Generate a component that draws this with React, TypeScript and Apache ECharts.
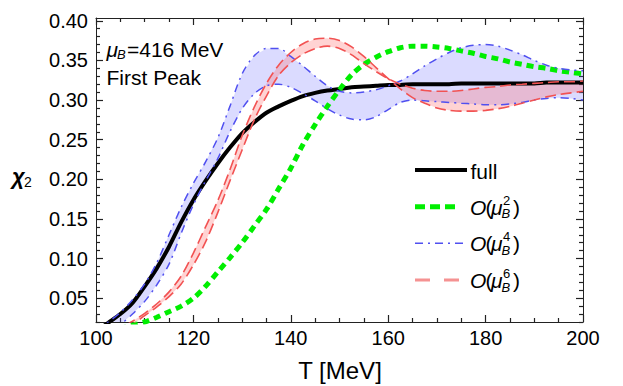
import React, { useEffect, useRef } from "react";
import * as echarts from "echarts";

// ---- data ----
const temperatures = [
  100, 102.5, 105, 107.5, 110, 112.5, 115, 117.5, 120, 122.5, 125, 127.5, 130, 132.5, 135, 137.5,
  140, 142.5, 145, 147.5, 150, 152.5, 155, 157.5, 160, 162.5, 165, 167.5, 170, 172.5, 175, 177.5,
  180, 182.5, 185, 187.5, 190, 192.5, 195, 197.5, 200,
];

const fullChi2 = [
  0.008, 0.019, 0.03, 0.044, 0.065, 0.088, 0.115, 0.146, 0.174, 0.198, 0.22, 0.24, 0.258, 0.272, 0.284, 0.292,
  0.299, 0.305, 0.309, 0.312, 0.314, 0.316, 0.317, 0.318, 0.319, 0.319, 0.32, 0.32, 0.32, 0.32, 0.321, 0.321,
  0.321, 0.321, 0.321, 0.321, 0.321, 0.322, 0.322, 0.322, 0.322,
];

const order2Chi2 = [
  0.005, 0.009, 0.012, 0.016, 0.02, 0.026, 0.033, 0.04, 0.05, 0.065, 0.083, 0.101, 0.12, 0.141, 0.162, 0.188,
  0.214, 0.244, 0.269, 0.292, 0.313, 0.332, 0.345, 0.354, 0.361, 0.366, 0.368, 0.368, 0.367, 0.365, 0.362, 0.359,
  0.355, 0.352, 0.348, 0.345, 0.342, 0.34, 0.337, 0.335, 0.333,
];

const order4Upper = [
  0.01, 0.02, 0.032, 0.048, 0.068, 0.095, 0.13, 0.165, 0.195, 0.222, 0.252, 0.292, 0.333, 0.356, 0.365, 0.365,
  0.355, 0.343, 0.33, 0.318, 0.311, 0.309, 0.31, 0.313, 0.318, 0.324, 0.333, 0.343, 0.352, 0.36, 0.366, 0.369,
  0.37, 0.368, 0.363, 0.357, 0.35, 0.344, 0.34, 0.338, 0.337,
];

const order4Lower = [
  0.0, 0.008, 0.017, 0.03, 0.046, 0.067, 0.093, 0.132, 0.168, 0.198, 0.226, 0.26, 0.289, 0.308, 0.318, 0.32,
  0.316, 0.308, 0.299, 0.289, 0.281, 0.276, 0.275, 0.279, 0.288, 0.297, 0.3, 0.299, 0.298, 0.297, 0.296, 0.295,
  0.294, 0.294, 0.295, 0.297, 0.3, 0.302, 0.303, 0.302, 0.3,
];

const order6A = [
  0.0, 0.005, 0.012, 0.021, 0.031, 0.043, 0.058, 0.078, 0.107, 0.14, 0.173, 0.212, 0.255, 0.291, 0.321, 0.344,
  0.36, 0.371, 0.377, 0.378, 0.375, 0.367, 0.355, 0.341, 0.327, 0.314, 0.303, 0.296, 0.29, 0.287, 0.286, 0.286,
  0.287, 0.289, 0.292, 0.296, 0.3, 0.304, 0.307, 0.309, 0.311,
];

const order6B = [
  0.0, 0.003, 0.009, 0.017, 0.028, 0.039, 0.052, 0.068, 0.092, 0.121, 0.158, 0.198, 0.237, 0.275, 0.305, 0.331,
  0.347, 0.358, 0.365, 0.368, 0.365, 0.357, 0.346, 0.336, 0.327, 0.32, 0.315, 0.312, 0.311, 0.311, 0.312, 0.314,
  0.316, 0.317, 0.319, 0.32, 0.321, 0.322, 0.323, 0.323, 0.324,
];

const yMajorTicks = [0.05, 0.1, 0.15, 0.2, 0.25, 0.3, 0.35, 0.4];
const yMinorTicks = [
  0.02, 0.03, 0.04, 0.06, 0.07, 0.08, 0.09, 0.11, 0.12, 0.13, 0.14, 0.16, 0.17, 0.18, 0.19, 0.21, 0.22,
  0.23, 0.24, 0.26, 0.27, 0.28, 0.29, 0.31, 0.32, 0.33, 0.34, 0.36, 0.37, 0.38, 0.39,
];

const legendOrders = ["2", "4", "6"];
const annotationLines = ["=416 MeV", "First Peak"];

const FONT = "'Liberation Sans', Arial, Helvetica, sans-serif";
const FRAME = "#222";
const GREEN = "#00ee00";
const BLUE = "#5050f0";
const RED = "#f25252";

const pts = (ys: number[]) => temperatures.map((t, i) => [t, ys[i]]);

function band(name: string, a: number[], b: number[], color: string) {
  return {
    type: "custom",
    name,
    clip: true,
    silent: true,
    z: 1,
    data: temperatures.map((t, i) => [t, Math.min(a[i], b[i]), Math.max(a[i], b[i])]),
    encode: { x: 0, y: [1, 2] },
    renderItem: (params: any, api: any) => {
      if (params.dataIndex !== 0) return null;
      const upper: number[][] = [];
      const lower: number[][] = [];
      for (let i = 0; i < temperatures.length; i++) {
        upper.push(api.coord([temperatures[i], Math.max(a[i], b[i])]));
        lower.push(api.coord([temperatures[i], Math.min(a[i], b[i])]));
      }
      return {
        type: "polygon",
        shape: { points: upper.concat(lower.reverse()) },
        style: { fill: color },
      };
    },
  };
}

function lineSeries(name: string, ys: number[], style: any, z: number) {
  return {
    type: "line",
    name,
    data: pts(ys),
    showSymbol: false,
    symbol: "none",
    smooth: 0.3,
    clip: true,
    silent: true,
    z,
    lineStyle: style,
  };
}

function txt(text: string, x: number, y: number, size: number, extra: any = {}) {
  return {
    type: "text",
    x,
    y,
    silent: true,
    style: {
      text,
      fontSize: size,
      fontFamily: FONT,
      fill: "#000",
      align: "left",
      verticalAlign: "middle",
      textAlign: "left",
      textVerticalAlign: "middle",
      ...extra,
    },
  };
}

function xAxisDef(position: "bottom" | "top", labels: boolean) {
  return {
    type: "value",
    position,
    min: 100,
    max: 200,
    interval: 20,
    axisLine: { show: true, onZero: false, lineStyle: { color: FRAME, width: 1 } },
    axisTick: { show: true, inside: true, length: 7, lineStyle: { color: FRAME, width: 1.2 } },
    minorTick: { show: true, splitNumber: 4, length: 4, lineStyle: { color: FRAME, width: 1.2 } },
    splitLine: { show: false },
    axisLabel: {
      show: labels,
      fontSize: 20,
      fontFamily: FONT,
      color: "#000",
      margin: 6,
    },
  };
}

function yAxisDef(position: "left" | "right", major: boolean, labels: boolean) {
  return {
    type: "value",
    position,
    min: 0.02,
    max: 0.4035,
    axisLine: { show: major, onZero: false, lineStyle: { color: FRAME, width: 1 } },
    axisTick: {
      show: true,
      inside: true,
      length: major ? 7 : 4,
      customValues: major ? yMajorTicks : yMinorTicks,
      lineStyle: { color: FRAME, width: 1.2 },
    },
    splitLine: { show: false },
    axisLabel: {
      show: labels,
      customValues: yMajorTicks,
      fontSize: 20,
      fontFamily: FONT,
      color: "#000",
      margin: 8,
      formatter: (v: number) => v.toFixed(2),
    },
  };
}

export default function App() {
  const ref = useRef<HTMLDivElement>(null);

  useEffect(() => {
    if (!ref.current) return;
    const chart = echarts.init(ref.current, undefined, { renderer: "svg" });

    const legendX1 = 415;
    const legendX2 = 467;
    const rowY = [170, 206.7, 243.3, 280];

    const graphic: any[] = [
      // annotation
      txt("μ", 106.5, 49.5, 21, { fontStyle: "italic" }),
      txt("B", 117, 54.5, 13, { fontStyle: "italic" }),
      txt(annotationLines[0], 127, 49.5, 21),
      txt(annotationLines[1], 106.5, 77.7, 21),
      // axis titles
      txt("T [MeV]", 340, 370, 24, { align: "center", textAlign: "center" }),
      txt("χ", 12, 176, 22, { fontStyle: "italic", fontWeight: "bold" }),
      txt("2", 24, 182, 14),
      // legend lines
      {
        type: "line",
        silent: true,
        shape: { x1: legendX1, y1: rowY[0], x2: legendX2, y2: rowY[0] },
        style: { stroke: "#000", lineWidth: 4 },
      },
      {
        type: "line",
        silent: true,
        shape: { x1: legendX1, y1: rowY[1], x2: 460, y2: rowY[1] },
        style: { stroke: GREEN, lineWidth: 5, lineDash: [10, 5] },
      },
      {
        type: "line",
        silent: true,
        shape: { x1: legendX1, y1: rowY[2], x2: 463, y2: rowY[2] },
        style: { stroke: BLUE, lineWidth: 1.5, lineDash: [8, 5, 2, 5] },
      },
      {
        type: "line",
        silent: true,
        shape: { x1: legendX1, y1: rowY[3], x2: 463, y2: rowY[3] },
        style: { stroke: "rgba(242,110,110,0.75)", lineWidth: 3, lineDash: [15, 14] },
      },
      txt("full", 470.5, 171, 21),
    ];
    legendOrders.forEach((ord, k) => {
      const y = rowY[k + 1] + 0.5;
      graphic.push(txt("O", 470, y, 21, { fontStyle: "italic" }));
      graphic.push(txt("(", 485.5, y, 21));
      graphic.push(txt("μ", 491, y, 21, { fontStyle: "italic" }));
      graphic.push(txt(ord, 503, y - 7, 13));
      graphic.push(txt("B", 501.5, y + 6.5, 13, { fontStyle: "italic" }));
      graphic.push(txt(")", 513, y, 21));
    });

    chart.setOption({
      animation: false,
      backgroundColor: "#fff",
      grid: { left: 96, right: 40, top: 18, bottom: 64, containLabel: false },
      xAxis: [xAxisDef("bottom", true), xAxisDef("top", false)],
      yAxis: [
        yAxisDef("left", true, true),
        yAxisDef("left", false, false),
        yAxisDef("right", true, false),
        yAxisDef("right", false, false),
      ],
      series: [
        band("O(μB^4) band", order4Upper, order4Lower, "rgba(110,110,255,0.25)"),
        band("O(μB^6) band", order6A, order6B, "rgba(255,110,110,0.3)"),
        lineSeries("full", fullChi2, { color: "#000", width: 4 }, 3),
        lineSeries("O(μB^2)", order2Chi2, { color: GREEN, width: 5, type: [7, 5] }, 4),
        lineSeries("O(μB^4) upper", order4Upper, { color: BLUE, width: 1.5, type: [8, 5, 2, 5] }, 5),
        lineSeries("O(μB^4) lower", order4Lower, { color: BLUE, width: 1.5, type: [8, 5, 2, 5] }, 5),
        lineSeries("O(μB^6) a", order6A, { color: RED, width: 1.6, type: [11, 5] }, 6),
        lineSeries("O(μB^6) b", order6B, { color: RED, width: 1.6, type: [11, 5] }, 6),
      ],
      graphic,
    });

    return () => chart.dispose();
  }, []);

  return (
    <div
      ref={ref}
      style={{ position: "fixed", left: 0, top: 0, width: 623, height: 386, background: "#fff" }}
    />
  );
}
